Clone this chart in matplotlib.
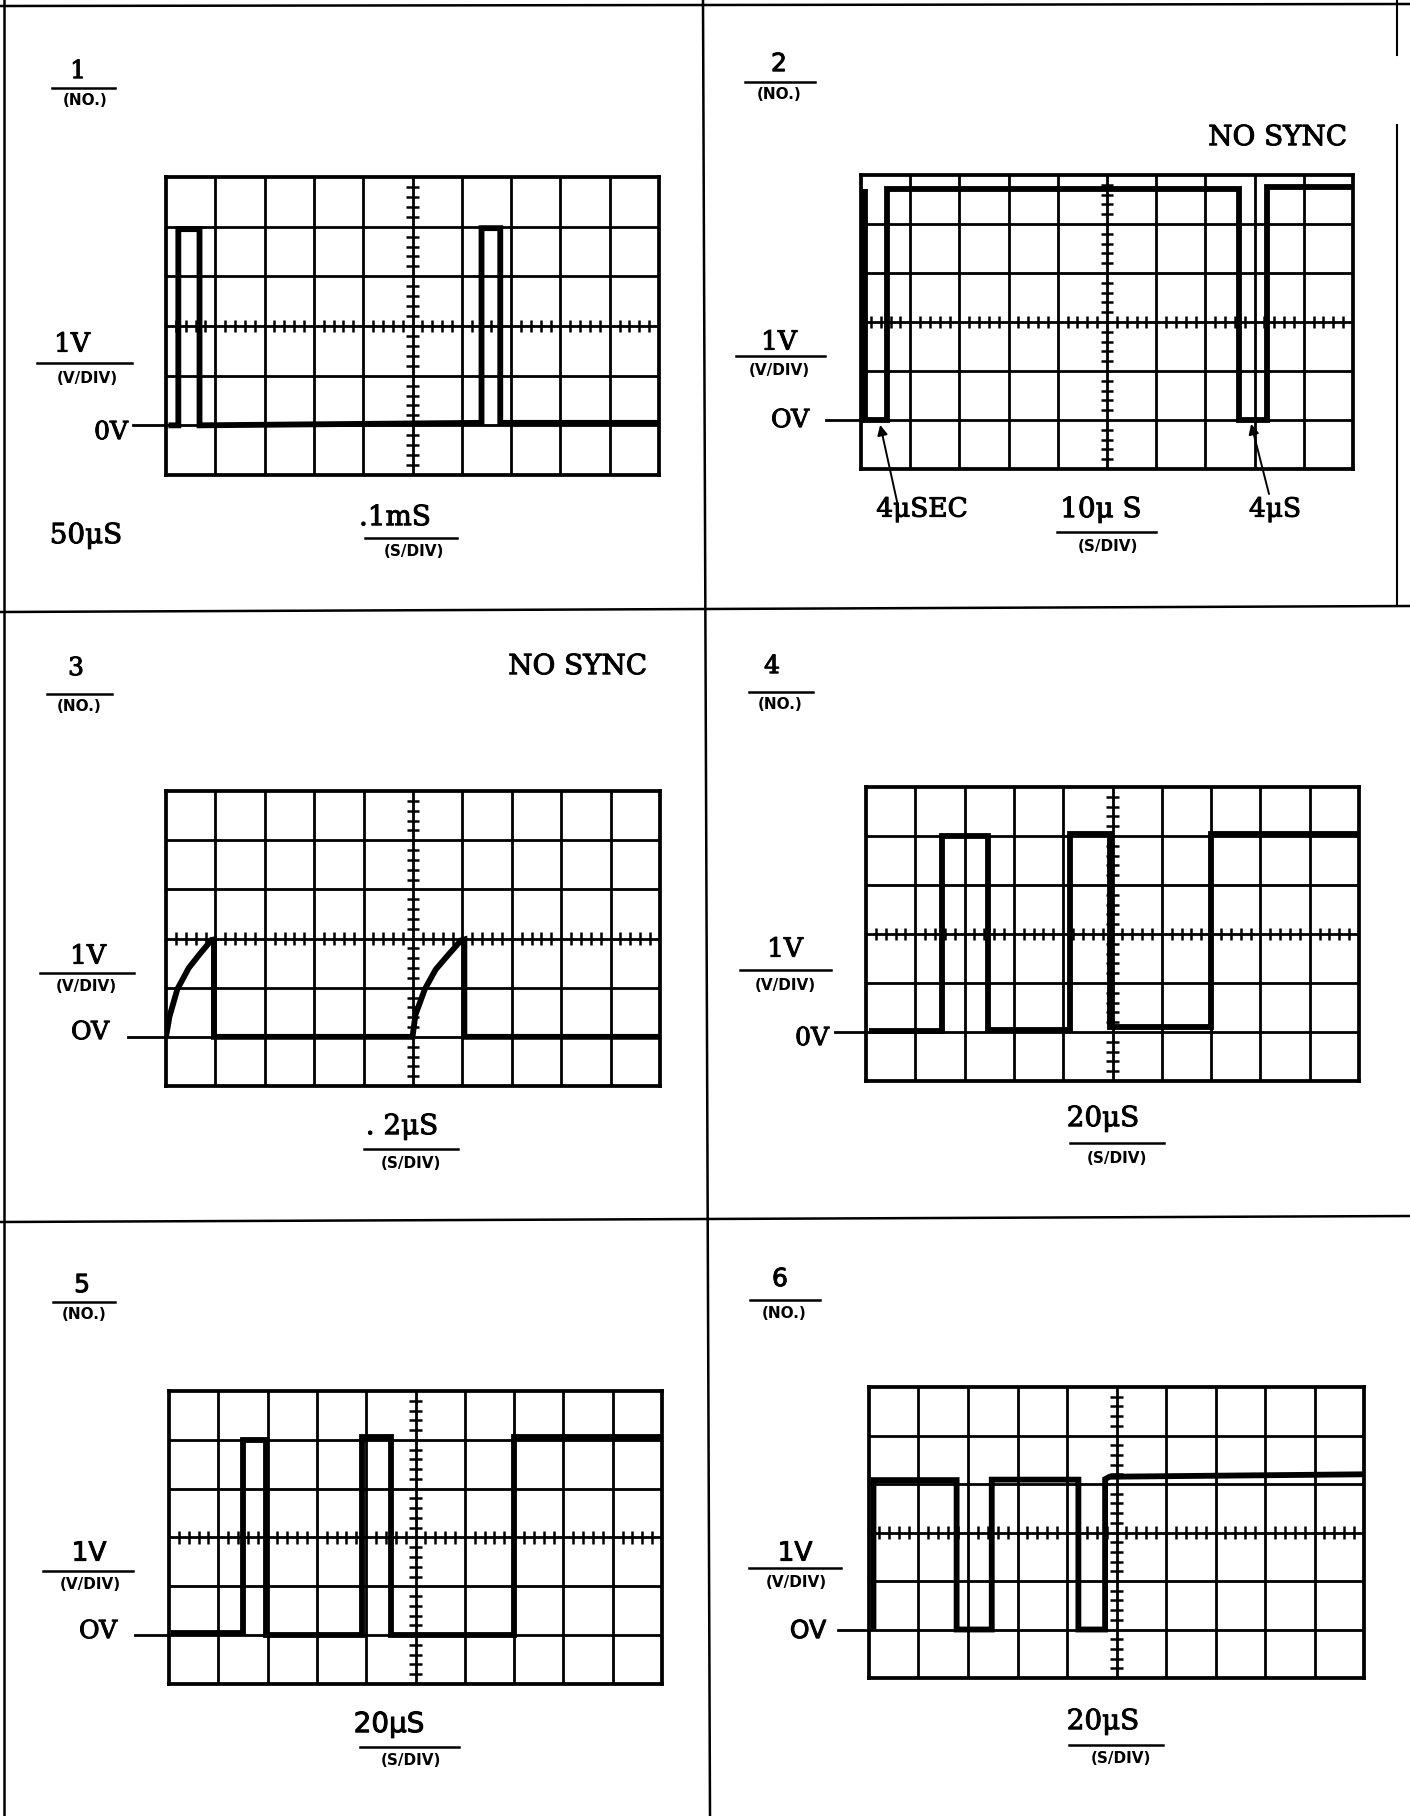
import matplotlib
matplotlib.use("Agg")
import matplotlib.pyplot as plt
import matplotlib.patheffects as pe
from matplotlib.lines import Line2D
import numpy as np

W, H = 1410, 1816

# scope traces: x in divisions (0-10), y in volts (1 V/div, 0 V one div above bottom)
p1_t = [0.05, 0.25, 0.25, 0.68, 0.68, 6.40, 6.40, 6.78, 6.78, 10.0]
p1_v = [0.0, 0.0, 3.95, 3.95, 0.0, 0.05, 3.97, 3.97, 0.05, 0.05]

p2_t = [0.09, 0.09, 0.52, 0.52, 7.69, 7.69, 8.26, 8.26, 10.0]
p2_v = [4.72, 0.0, 0.0, 4.72, 4.72, 0.0, 0.0, 4.75, 4.75]

p3_t = [0.0, 0.07, 0.23, 0.46, 0.68, 0.92, 0.97, 0.97, 4.99, 5.05, 5.24, 5.46,
        5.69, 5.97, 6.04, 6.04, 10.0]
p3_v = [0.0, 0.41, 0.97, 1.40, 1.68, 1.97, 1.98, 0.0, 0.0, 0.45, 0.97, 1.37,
        1.64, 1.96, 1.98, 0.0, 0.0]

p4_t = [0.06, 1.54, 1.54, 2.48, 2.48, 4.14, 4.14, 4.94, 4.94, 6.99, 6.99, 10.0]
p4_v = [0.03, 0.03, 4.0, 4.0, 0.05, 0.05, 4.04, 4.04, 0.1, 0.1, 4.05, 4.05]

p5_t = [0.05, 1.50, 1.50, 1.96, 1.96, 3.92, 3.92, 4.51, 4.51, 6.99, 6.99, 10.0]
p5_v = [0.04, 0.04, 4.0, 4.0, 0.0, 0.0, 4.05, 4.05, 0.0, 0.0, 4.05, 4.05]

p6_t = [0.09, 0.09, 1.77, 1.77, 2.48, 2.48, 4.23, 4.23, 4.77, 4.77, 4.86, 10.0]
p6_v = [0.0, 3.08, 3.08, 0.0, 0.0, 3.09, 3.09, 0.0, 0.0, 3.10, 3.15, 3.20]

traces = [(p1_t, p1_v), (p2_t, p2_v), (p3_t, p3_v),
          (p4_t, p4_v), (p5_t, p5_v), (p6_t, p6_v)]

sheet_no = ["1", "2", "3", "4", "5", "6"]
volts_div = ["1V", "1V", "1V", "1V", "1V", "1V"]
zero_lbl = ["0V", "OV", "OV", "0V", "OV", "OV"]
time_div = [".1mS", "10\u03bc S", ". 2\u03bcS", "20\u03bcS", "20\u03bcS", "20\u03bcS"]

SERIF = "DejaVu Serif"
SANS = "DejaVu Sans"

# pixel layout of each panel
panels = [
    dict(grid=(166, 177, 659, 475), num=(78, 69, SERIF), numline=(52, 115, 88), no=(85, 99),
         vl=(72, 342, SERIF), vline=(37, 132, 363), vdiv=(87, 377),
         zero=(111, 430, SERIF), dash=(133, 163),
         tl=(395, 515, SERIF), tline=(365, 457, 538), sdiv=(414, 550)),
    dict(grid=(861, 175, 1353, 469), num=(779, 62, SANS), numline=(745, 815, 82), no=(779, 93),
         vl=(779, 340, SERIF), vline=(736, 825, 356), vdiv=(779, 369),
         zero=(790, 418, SERIF), dash=(826, 860),
         tl=(1101, 507, SERIF), tline=(1057, 1156, 532), sdiv=(1108, 545)),
    dict(grid=(166, 791, 660, 1086), num=(76, 666, SERIF), numline=(47, 112, 694), no=(79, 705),
         vl=(88, 954, SERIF), vline=(40, 134, 973), vdiv=(86, 985),
         zero=(90, 1030, SERIF), dash=(128, 164),
         tl=(402, 1124, SERIF), tline=(364, 458, 1149), sdiv=(411, 1162)),
    dict(grid=(866, 787, 1359, 1081), num=(772, 664, SERIF), numline=(749, 813, 692), no=(780, 703),
         vl=(785, 947, SERIF), vline=(740, 831, 970), vdiv=(785, 984),
         zero=(812, 1036, SERIF), dash=(835, 865),
         tl=(1103, 1116, SERIF), tline=(1070, 1164, 1143), sdiv=(1117, 1157)),
    dict(grid=(169, 1391, 662, 1684), num=(82, 1283, SANS), numline=(53, 115, 1302), no=(84, 1313),
         vl=(89, 1551, SANS), vline=(43, 133, 1571), vdiv=(90, 1583),
         zero=(98, 1629, SERIF), dash=(135, 169),
         tl=(389, 1722, SANS), tline=(360, 459, 1747), sdiv=(411, 1759)),
    dict(grid=(869, 1387, 1364, 1678), num=(780, 1277, SANS), numline=(750, 820, 1300), no=(784, 1312),
         vl=(795, 1551, SANS), vline=(749, 841, 1568), vdiv=(796, 1581),
         zero=(808, 1629, SANS), dash=(838, 867),
         tl=(1103, 1719, SERIF), tline=(1069, 1163, 1745), sdiv=(1121, 1757)),
]

fig = plt.figure(figsize=(W / 100, H / 100), dpi=100)
fig.patch.set_facecolor("white")

# slightly heavier strokes, like the printed sheet
ink = [pe.withStroke(linewidth=0.7, foreground="black")]


def fx(x):
    return x / W


def fy(y):
    return 1 - y / H


def label(x, y, s, size, family=SERIF, weight="normal", ha="center", heavy=True):
    # y is the visual middle of the capitals
    base = y + 0.5 * 0.73 * size * 100 / 72
    fig.text(fx(x), fy(base), s, fontsize=size, family=family, weight=weight,
             ha=ha, va="baseline", color="black",
             path_effects=ink if heavy else None)


def rule(x0, x1, y0, y1=None, lw=1.8):
    y1 = y0 if y1 is None else y1
    fig.add_artist(Line2D([fx(x0), fx(x1)], [fy(y0), fy(y1)], lw=lw, color="black"))


def small(x, y, s):
    label(x, y, s, 11, family=SANS, weight="bold", heavy=False)


# sheet frame
rule(0, W, 6, 4, lw=1.8)
rule(4, 4, 0, H, lw=1.8)
rule(703, 710, 0, H, lw=1.8)
rule(0, W, 612, 606, lw=1.8)
rule(0, W, 1222, 1216, lw=1.8)
rule(1397, 1397, 0, 55, lw=1.5)
rule(1397, 1397, 125, 606, lw=1.5)

axes = []
for i, p in enumerate(panels):
    x0, y0, x1, y1 = p["grid"]
    ax = fig.add_axes([fx(x0), fy(y1), (x1 - x0) / W, (y1 - y0) / H])
    ax.set_xlim(0, 10)
    ax.set_ylim(-1, 5)
    ax.set_xticks([])
    ax.set_yticks([])
    for s in ax.spines.values():
        s.set_linewidth(2.7)
    ax.vlines(np.arange(1, 10), -1, 5, color="black", lw=2.0)
    ax.hlines(np.arange(0, 5), 0, 10, color="black", lw=2.0)
    # graduations on the centre lines
    xm = np.arange(0.2, 10, 0.2)
    xm = xm[np.abs(xm - np.round(xm)) > 0.05]
    ym = np.arange(-0.8, 5, 0.2)
    ym = ym[np.abs(ym - np.round(ym)) > 0.05]
    ax.vlines(xm, 2 - 0.13, 2 + 0.13, color="black", lw=1.8)
    ax.hlines(ym, 5 - 0.13, 5 + 0.13, color="black", lw=1.8)

    t, v = traces[i]
    ax.plot(t, v, color="black", lw=4.2, solid_joinstyle="miter", solid_capstyle="butt")

    # 0 V marker outside the graticule
    div = (x1 - x0) / 10
    d0, d1 = p["dash"]
    ax.plot([(d0 - x0) / div, (d1 - x0) / div], [0, 0], color="black", lw=2.0, clip_on=False)
    axes.append(ax)

    nx, ny, nfam = p["num"]
    label(nx, ny, sheet_no[i], 18, family=nfam)
    rule(*p["numline"])
    small(*p["no"], "(NO.)")

    vx, vy, vfam = p["vl"]
    label(vx, vy, volts_div[i], 19, family=vfam)
    rule(*p["vline"])
    small(*p["vdiv"], "(V/DIV)")

    zx, zy, zfam = p["zero"]
    label(zx, zy, zero_lbl[i], 18, family=zfam)

    tx, ty, tfam = p["tl"]
    label(tx, ty, time_div[i], 20, family=tfam)
    rule(*p["tline"])
    small(*p["sdiv"], "(S/DIV)")

label(86, 533, "50\u03bcS", 20)
label(1347, 135, "NO SYNC", 20, ha="right")
label(647, 664, "NO SYNC", 20, ha="right")

# pulse-width callouts on sheet 2
label(922, 507, "4\u03bcSEC", 19)
label(1275, 507, "4\u03bcS", 19)
arrow = dict(arrowstyle="-|>", color="black", lw=1.4, mutation_scale=15, shrinkA=0, shrinkB=0)
axes[1].annotate("", xy=(0.39, -0.1), xytext=(898, H - 506), textcoords="figure pixels",
                 arrowprops=arrow)
axes[1].annotate("", xy=(7.93, -0.08), xytext=(1269, H - 494), textcoords="figure pixels",
                 arrowprops=arrow)

fig.savefig("out.png", dpi=100, facecolor="white")
